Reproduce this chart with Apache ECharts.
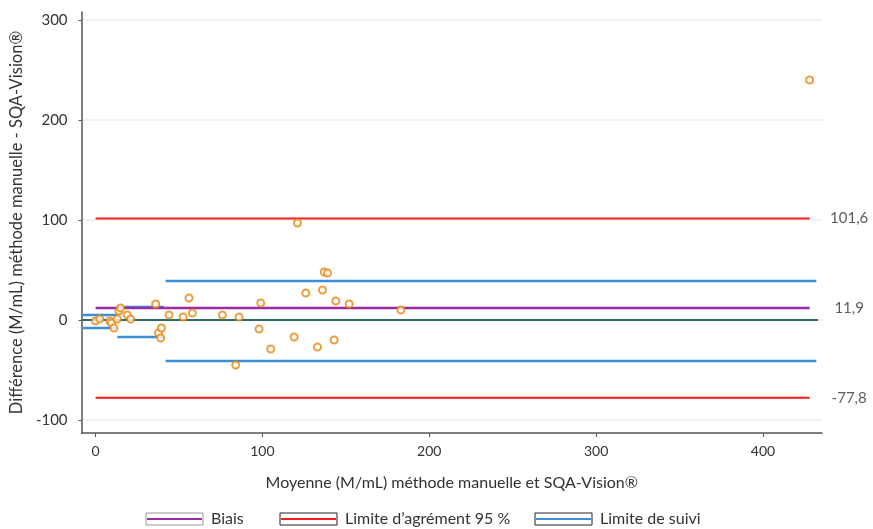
<!DOCTYPE html>
<html>
<head>
<meta charset="utf-8">
<script src="https://cdn.jsdelivr.net/npm/echarts@6/dist/echarts.min.js"></script>
<style>
html,body{margin:0;padding:0;background:#fff;}
#c{width:873px;height:529px;}
</style>
</head>
<body>
<div id="c"></div>
<script>
// ---- data ----
const pointX = [0, 2.5, 8.5, 9.5, 11, 13, 14, 15, 19, 21, 36, 37.7, 39.5, 39, 44, 52.5, 56, 58, 76, 84, 86, 98, 99, 105, 119, 121, 126, 133, 136, 137, 139, 143, 144, 152, 183, 428];
const pointY = [-1, 1, -1, -3, -8, 1, 9, 12, 5, 1, 16, -13, -8, -18, 5, 3, 22, 7, 5, -45, 3, -9, 17, -29, -17, 97, 27, -27, 30, 48, 47, -20, 19, 16, 10, 240];
const biasValue = 11.9;
const upperLoA = 101.6;
const lowerLoA = -77.8;
const refLineX = [0, 428];
const zeroLineX = [-8.4, 433];
const followStartX = [-8, 13, 42];
const followEndX = [13, 41, 432];
const followUpper = [5, 13, 39];
const followLower = [-8, -17, -41];
const xTicks = [0, 100, 200, 300, 400];
const yTicks = [-100, 0, 100, 200, 300];
const legendNames = ['Biais', 'Limite d\u2019agrément 95 %', 'Limite de suivi'];

const FONT = 'Lato, "Open Sans", sans-serif';
const C_RED = '#FF1A1A', C_PURPLE = '#9A2BA3', C_BLUE = '#3A8FD9', C_TEAL = '#2E6E62', C_ORANGE = '#E8860F';
const fmt = v => String(v).replace('.', ',');

function hLine(xs, y, color, width) {
  return {
    type: 'line', silent: true, symbol: 'none', z: 3,
    data: [[xs[0], y], [xs[1], y]],
    lineStyle: {color: color, width: width},
    animation: false
  };
}

const series = [];
series.push(hLine(zeroLineX, 0, C_TEAL, 2));
for (let i = 0; i < followStartX.length; i++) {
  series.push(hLine([followStartX[i], followEndX[i]], followUpper[i], C_BLUE, 2.5));
  series.push(hLine([followStartX[i], followEndX[i]], followLower[i], C_BLUE, 2.5));
}
series.push(hLine(refLineX, biasValue, C_PURPLE, 2.5));
series.push(hLine(refLineX, upperLoA, C_RED, 2));
series.push(hLine(refLineX, lowerLoA, C_RED, 2));
// value labels at the end of the reference lines
const refValues = [upperLoA, biasValue, lowerLoA];
series.push({
  type: 'scatter', silent: true, z: 4, animation: false,
  symbolSize: 1, itemStyle: {color: 'rgba(0,0,0,0)'},
  data: refValues.map(v => [refLineX[1], v]),
  label: {show: true, position: 'right', distance: 39, align: 'center', formatter: p => fmt(p.value[1]),
          color: '#333', fontFamily: FONT, fontSize: 15, offset: [0, -2]},
  labelLayout: {hideOverlap: false}
});
series.push({
  type: 'scatter', z: 5, animation: false,
  data: pointX.map((x, i) => [x, pointY[i]]),
  symbol: 'circle', symbolSize: 7,
  itemStyle: {color: '#fff', borderColor: C_ORANGE, borderWidth: 2}
});

// legend drawn as graphic (box with coloured line + text)
const legendColors = [C_PURPLE, C_RED, C_BLUE];
const legendBoxX = [146, 280, 535];
const legendBorder = ['#999', '#222', '#222'];
const graphic = [];
legendNames.forEach((n, i) => {
  const x = legendBoxX[i], y = 513;
  graphic.push({type: 'rect', shape: {x: x, y: y, width: 57, height: 12}, style: {fill: '#fff', stroke: legendBorder[i], lineWidth: 1}});
  graphic.push({type: 'line', shape: {x1: x + 1, y1: y + 6, x2: x + 56, y2: y + 6}, style: {stroke: legendColors[i], lineWidth: 2}});
  graphic.push({type: 'text', x: x + 65, y: y + 6, style: {text: n, fill: '#333', font: '16px ' + FONT, textVerticalAlign: 'middle'}});
});

const chart = echarts.init(document.getElementById('c'), null, {renderer: 'canvas'});
chart.setOption({
  backgroundColor: '#fff',
  animation: false,
  grid: {left: 81, right: 51, top: 12, bottom: 96, containLabel: false},
  xAxis: {
    type: 'value', min: -8.4, max: 435.4,
    name: 'Moyenne (M/mL) méthode manuelle et SQA-Vision®',
    nameLocation: 'middle', nameGap: 42,
    nameTextStyle: {color: '#333', fontFamily: FONT, fontSize: 16},
    axisLine: {show: true, onZero: false, lineStyle: {color: '#555', width: 1.5}},
    axisTick: {show: true, customValues: xTicks, length: 4, lineStyle: {color: '#555'}},
    axisLabel: {customValues: xTicks, color: '#333', fontFamily: FONT, fontSize: 14, margin: 11},
    splitLine: {show: false}
  },
  yAxis: {
    type: 'value', min: -113, max: 308,
    name: 'Différence (M/mL) méthode manuelle - SQA-Vision®',
    nameLocation: 'middle', nameGap: 46, nameRotate: 90,
    nameTextStyle: {color: '#333', fontFamily: FONT, fontSize: 16.5},
    axisLine: {show: true, onZero: false, lineStyle: {color: '#555', width: 1.5}},
    axisTick: {show: true, customValues: yTicks, length: 3, lineStyle: {color: '#555'}},
    axisLabel: {customValues: yTicks, color: '#333', fontFamily: FONT, fontSize: 15, margin: 14},
    splitLine: {show: true, lineStyle: {color: '#E6EEF2', width: 1.5}}
  },
  graphic: graphic,
  series: series
});
</script>
</body>
</html>
